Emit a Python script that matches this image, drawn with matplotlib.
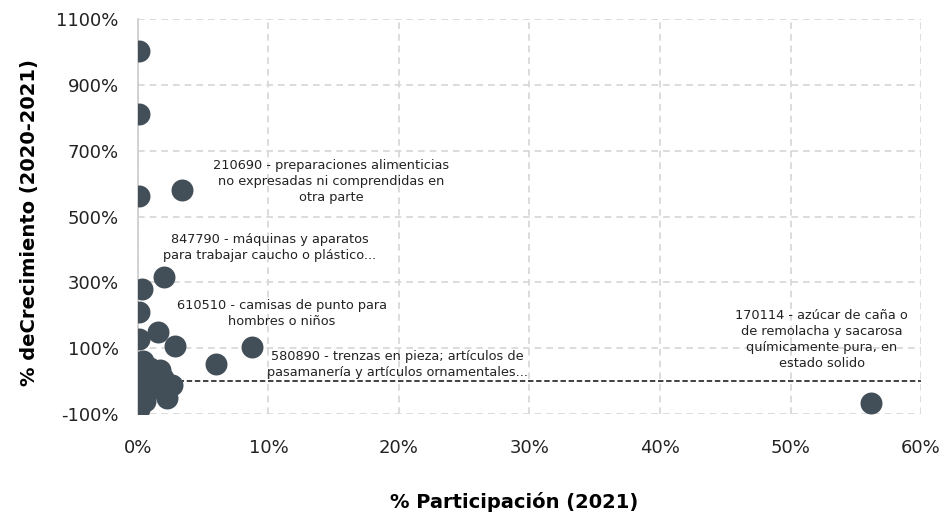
import matplotlib
matplotlib.use("Agg")
import matplotlib.pyplot as plt
from matplotlib.ticker import FuncFormatter

# Data: % participación (2021) vs % crecimiento (2020-2021)
participacion = [0.1, 0.1, 0.1, 3.4, 2.0, 0.3, 0.1, 1.5, 2.8, 8.7, 6.0, 0.1,
                 0.4, 0.9, 1.7, 0.2, 1.2, 2.6, 2.0, 2.2, 1.0, 0.5, 0.1, 0.3,
                 1.5, 0.6, 1.9, 56.2]
crecimiento = [1003, 812, 563, 581, 316, 280, 210, 150, 107, 103, 52, 128,
               62, 40, 35, 20, 15, -12, -30, -50, -20, -60, -85, 0,
               -5, -40, 10, -67]

annot_text = [
    "210690 - preparaciones alimenticias\nno expresadas ni comprendidas en\notra parte",
    "847790 - máquinas y aparatos\npara trabajar caucho o plástico...",
    "610510 - camisas de punto para\nhombres o niños",
    "580890 - trenzas en pieza; artículos de\npasamanería y artículos ornamentales...",
    "170114 - azúcar de caña o\nde remolacha y sacarosa\nquímicamente pura, en\nestado solido",
]
annot_x = [14.8, 10.1, 11.0, 19.9, 52.4]
annot_y = [605, 405, 204, 49, 125]

ref_line = 0

xticks = [0, 10, 20, 30, 40, 50, 60]
yticks = [-100, 100, 300, 500, 700, 900, 1100]

fig = plt.figure(figsize=(9.49, 5.17), dpi=100)
ax = fig.add_axes([0.1454, 0.1992, 0.8251, 0.764])

ax.set_xlim(0, 60)
ax.set_ylim(-100, 1100)
ax.set_xticks(xticks)
ax.set_yticks(yticks)
ax.xaxis.set_major_formatter(FuncFormatter(lambda v, p: f"{v:.0f}%"))
ax.yaxis.set_major_formatter(FuncFormatter(lambda v, p: f"{v:.0f}%"))

ax.grid(True, color="#d6d6d6", linestyle=(0, (4, 3)), linewidth=1.2)
ax.set_axisbelow(True)
for s in ["top", "right", "bottom"]:
    ax.spines[s].set_visible(False)
ax.spines["left"].set_color("#cccccc")
ax.spines["left"].set_linewidth(1.2)
ax.tick_params(length=0, labelsize=13, colors="#222222")
ax.tick_params(axis="x", pad=18)
ax.tick_params(axis="y", pad=14)

ax.axhline(ref_line, color="#333333", linestyle=(0, (3, 1.5)), linewidth=1.3, zorder=2)

ax.scatter(participacion, crecimiento, s=250, color="#434f58", zorder=3,
           linewidths=0)

for t, x, y in zip(annot_text, annot_x, annot_y):
    ax.text(x, y, t, ha="center", va="center", fontsize=9.3, color="#222222",
            linespacing=1.3, zorder=4)

ax.set_xlabel("% Participación (2021)", fontsize=14, fontweight="bold")
ax.set_ylabel("% deCrecimiento (2020-2021)", fontsize=14, fontweight="bold")
ax.xaxis.set_label_coords(0.481, -0.197)
ax.yaxis.set_label_coords(-0.127, 0.484)

fig.savefig("out.png", dpi=100)
